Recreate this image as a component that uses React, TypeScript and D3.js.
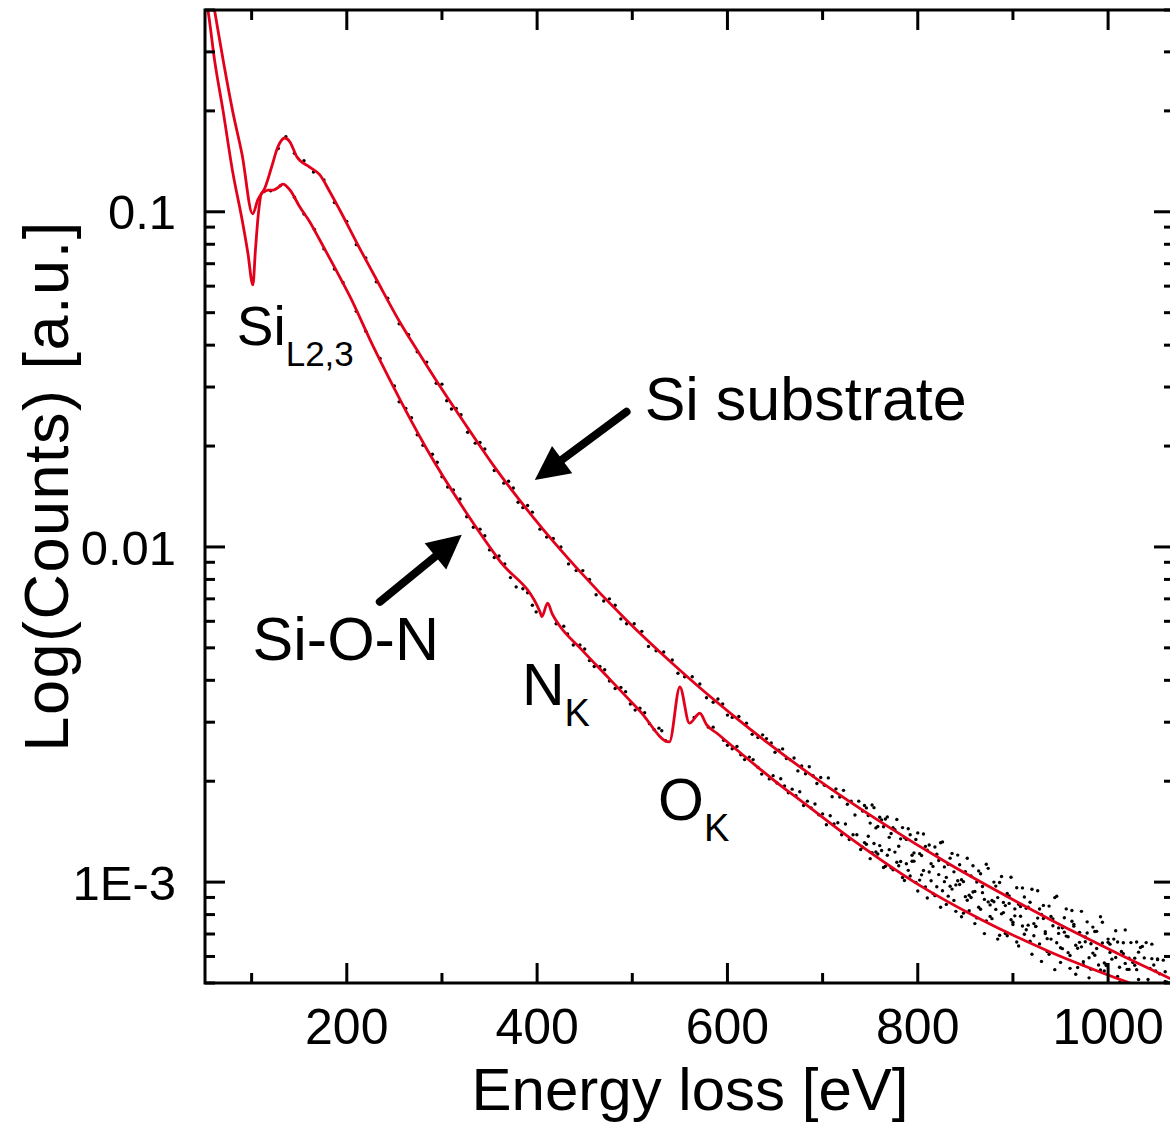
import React from "react";
import * as d3 from "d3";

const width = 1170;
const height = 1124;
const plot = { left: 205, top: 10, right: 1169, bottom: 983 };
const frameRight = 1174; // right axis sits just outside the cropped picture

// red fit curve, Si substrate (upper spectrum)
const siEnergy = [50, 55, 61, 70, 80, 90, 101, 106.5, 114, 121, 127.5, 135, 140, 147.5, 161, 171.5, 182, 192.5, 210.5, 231.5, 255.5, 273.5, 294.5, 326, 353.5, 395.5, 441.5, 494, 542.5, 571, 605.5, 641, 694, 763, 833.5, 904, 973, 1009, 1070];
const siFit = [0.62, 0.5, 0.4, 0.284, 0.2, 0.148, 0.0986, 0.1086, 0.118, 0.136, 0.156, 0.166, 0.162, 0.146, 0.136, 0.129, 0.115, 0.1014, 0.0808, 0.0626, 0.047, 0.0388, 0.0312, 0.0229, 0.0176, 0.0123, 0.00866, 0.00604, 0.00448, 0.0038, 0.00315, 0.00262, 0.00203, 0.0015, 0.00113, 0.000874, 0.00069, 0.000614, 0.000508];

// red fit curve, Si-O-N layer (lower spectrum)
const sonEnergy = [50, 54, 61, 70, 80, 90, 96, 101.3, 104, 107, 110.7, 114, 117, 122, 127.5, 133, 140, 150.5, 161, 171.5, 187.5, 203, 227.5, 245, 284, 326, 360.5, 403, 405, 411, 416, 424, 445, 476, 508, 539, 550, 560, 571, 578, 589, 623, 658, 676, 728, 799, 868, 938.5, 1022.5, 1070];
const sonFit = [0.45, 0.4, 0.284, 0.2, 0.132, 0.0946, 0.0755, 0.0605, 0.077, 0.098, 0.114, 0.115, 0.116, 0.116, 0.118, 0.121, 0.1164, 0.1035, 0.0934, 0.0825, 0.068, 0.0561, 0.0398, 0.0316, 0.0196, 0.0126, 0.0091, 0.0064, 0.0062, 0.0068, 0.0063, 0.0058, 0.005, 0.00404, 0.00324, 0.00262, 0.00382, 0.00298, 0.00319, 0.00295, 0.00278, 0.00231, 0.00192, 0.00176, 0.00136, 0.00099, 0.00077, 0.00062, 0.0005, 0.000447];

// measured points (black dots), [energy, counts]
const siDots: [number, number][] = [
  [128, 0.1545], [136, 0.1675], [145, 0.1495], [155, 0.142], [165, 0.1315], [176, 0.1245], [187, 0.1065], [200, 0.0935],
  [210, 0.0798], [220, 0.0728], [231, 0.0618], [243, 0.0552], [255, 0.0463], [265, 0.043], [274, 0.0382], [284, 0.0356],
  [294, 0.0308], [300, 0.0306], [310, 0.0258], [320, 0.0248], [335, 0.0204], [345, 0.0196], [365, 0.0155], [375, 0.015],
  [385, 0.0131], [395, 0.0127], [410, 0.0107], [425, 0.01], [441, 0.0085], [455, 0.008], [470, 0.0069], [482, 0.0067],
  [494, 0.0059], [510, 0.0056], [525, 0.0049], [542, 0.0046], [555, 0.0041], [571, 0.0039], [585, 0.00344], [595, 0.0034],
  [605, 0.0031], [620, 0.00298], [632, 0.0027], [641, 0.00268],
  [305, 0.0273], [315, 0.0259], [327, 0.022], [340, 0.0205], [355, 0.0169], [370, 0.0157], [380, 0.0136], [390, 0.0133],
  [403, 0.0113], [417, 0.0106], [433, 0.0089], [448, 0.0085], [462, 0.0072], [476, 0.007], [488, 0.0061], [502, 0.0059],
  [517, 0.00505], [533, 0.00486], [548, 0.0042], [563, 0.0041], [578, 0.00355], [590, 0.00352], [600, 0.00315], [612, 0.00312],
  [626, 0.00276], [637, 0.00275],
  [646, 0.002601], [650, 0.002441], [654, 0.002475], [658, 0.002497], [662, 0.002337], [666, 0.002316], [670, 0.002347],
  [674, 0.002147], [678, 0.00222], [682, 0.002105], [686, 0.00221], [690, 0.002076], [694, 0.001968], [698, 0.002051],
  [702, 0.001944], [706, 0.002046], [710, 0.001798], [714, 0.001897], [718, 0.001794], [722, 0.001878], [726, 0.001708],
  [730, 0.001742], [734, 0.001586], [738, 0.001744], [742, 0.00163], [746, 0.001665], [750, 0.0015], [754, 0.001668],
  [758, 0.001466], [762, 0.001534], [766, 0.001543], [770, 0.00136], [774, 0.001453], [778, 0.001537], [782, 0.001346],
  [786, 0.001358], [790, 0.001443], [794, 0.001203], [798, 0.00134], [802, 0.001216], [806, 0.001391], [810, 0.001245],
  [814, 0.001135], [818, 0.001273], [822, 0.00116], [826, 0.001318], [830, 0.001033], [834, 0.001179], [838, 0.001073],
  [842, 0.001204], [846, 0.001016], [850, 0.001075], [854, 0.000914], [858, 0.001119], [862, 0.001001], [866, 0.001059],
  [870, 0.000888], [874, 0.001099], [878, 0.000881], [882, 0.000973], [886, 0.000997], [890, 0.000811], [894, 0.000925],
  [898, 0.001034], [902, 0.000832], [906, 0.000859], [910, 0.000961], [914, 0.000721], [918, 0.000871], [922, 0.000752],
  [926, 0.000942], [930, 0.000801], [934, 0.000702], [938, 0.000848], [942, 0.000741], [946, 0.000907], [950, 0.000637],
  [954, 0.000783], [958, 0.000687], [962, 0.000823], [966, 0.000648], [970, 0.000708], [974, 0.000567], [978, 0.000761],
  [982, 0.000655], [986, 0.000712], [990, 0.000566], [994, 0.000759], [998, 0.000568], [1002, 0.000653], [1006, 0.000676],
  [1010, 0.000523], [1014, 0.000621], [1018, 0.00072], [1022, 0.000549], [1026, 0.000576], [1030, 0.000663], [1034, 0.00047],
  [1038, 0.000594], [1042, 0.000499], [1046, 0.000653], [1050, 0.000543], [1054, 0.000468], [1058, 0.000585], [1062, 0.000503],
  [744, 0.001692], [748, 0.00158], [752, 0.001699], [756, 0.001451], [760, 0.001562], [764, 0.001462], [768, 0.001565],
  [772, 0.001396], [776, 0.001434], [780, 0.001279], [784, 0.001454], [788, 0.001341], [792, 0.001385], [796, 0.001222],
  [800, 0.001402], [804, 0.0012], [808, 0.001278], [812, 0.00129], [816, 0.001114], [820, 0.001211], [824, 0.00131],
  [828, 0.00111], [832, 0.001131], [836, 0.001218], [840, 0.000981], [844, 0.001127], [848, 0.001003], [852, 0.001178],
  [856, 0.001043], [860, 0.000938], [864, 0.00108], [868, 0.00097], [872, 0.001131], [876, 0.000855], [880, 0.001],
  [884, 0.000899], [888, 0.001039], [892, 0.000851], [896, 0.00091], [900, 0.000759], [904, 0.000962], [908, 0.000845],
  [912, 0.000903], [916, 0.000744], [920, 0.000952], [924, 0.000737], [928, 0.000831], [932, 0.000852], [936, 0.000678],
  [940, 0.00079], [944, 0.000899], [948, 0.000703], [952, 0.000731], [956, 0.000832], [960, 0.000604], [964, 0.000748],
  [968, 0.000635], [972, 0.000818], [976, 0.000686], [980, 0.000595], [984, 0.000734], [988, 0.000634], [992, 0.000788],
  [996, 0.000543], [1000, 0.000676], [1004, 0.000589], [1008, 0.000716], [1012, 0.000557], [1016, 0.000611], [1020, 0.000485],
  [1024, 0.00066], [1028, 0.000565], [1032, 0.000618], [1036, 0.000488], [1040, 0.00066], [1044, 0.00049], [1048, 0.000566],
  [1052, 0.000587], [1056, 0.000453], [1060, 0.00054],
];

const sonDots: [number, number][] = [
  [120, 0.1155], [130, 0.1195], [145, 0.1105], [155, 0.0985], [166, 0.0885], [176, 0.0775], [187, 0.0675], [196, 0.0615],
  [210, 0.0505], [220, 0.044], [235, 0.0365], [250, 0.0302], [262, 0.0259], [274, 0.0216], [290, 0.0189], [300, 0.0162],
  [312, 0.0148], [326, 0.0123], [340, 0.0113], [350, 0.0098], [360, 0.0094], [372, 0.0081], [385, 0.0075], [395, 0.0067],
  [420, 0.0059], [432, 0.0055], [445, 0.0051], [455, 0.00458], [466, 0.0044], [476, 0.00398], [488, 0.00381], [498, 0.0034],
  [508, 0.0033], [518, 0.00297], [528, 0.00288], [535, 0.00264], [565, 0.0031], [580, 0.0029], [596, 0.00265], [605, 0.0025],
  [614, 0.0024], [623, 0.00236], [632, 0.0022],
  [255, 0.0271], [268, 0.0243], [280, 0.0201], [295, 0.0179], [306, 0.0151], [319, 0.0139], [333, 0.01145], [345, 0.0108],
  [355, 0.0093], [366, 0.0089], [378, 0.0076], [390, 0.0073], [399, 0.0064], [428, 0.0058], [438, 0.0051], [450, 0.00496],
  [460, 0.0044], [471, 0.0043], [482, 0.00378], [493, 0.0037], [503, 0.00326], [513, 0.0032], [523, 0.00285], [531, 0.00283],
  [585, 0.0029], [600, 0.00256], [610, 0.00254], [618, 0.00232], [627, 0.00232], [636, 0.0021],
  [644, 0.002032], [648, 0.002078], [652, 0.001976], [656, 0.002035], [660, 0.001935], [664, 0.001848], [668, 0.001894],
  [672, 0.001809], [676, 0.00186], [680, 0.001693], [684, 0.001744], [688, 0.001663], [692, 0.00171], [696, 0.001588],
  [700, 0.001598], [704, 0.001483], [708, 0.001577], [712, 0.001491], [716, 0.001504], [720, 0.001384], [724, 0.001491],
  [728, 0.00134], [732, 0.001385], [736, 0.001384], [740, 0.001251], [744, 0.001312], [748, 0.00137], [752, 0.001223],
  [756, 0.00123], [760, 0.001285], [764, 0.001105], [768, 0.001203], [772, 0.001104], [776, 0.001229], [780, 0.001119],
  [784, 0.001032], [788, 0.001134], [792, 0.001043], [796, 0.001155], [800, 0.000941], [804, 0.001051], [808, 0.000968],
  [812, 0.001072], [816, 0.000925], [820, 0.000969], [824, 0.000841], [828, 0.001003], [832, 0.000908], [836, 0.000953],
  [840, 0.000818], [844, 0.000984], [848, 0.000808], [852, 0.000883], [856, 0.0009], [860, 0.000752], [864, 0.000841],
  [868, 0.00093], [872, 0.000766], [876, 0.00079], [880, 0.000874], [884, 0.000676], [888, 0.000804], [892, 0.000703],
  [896, 0.000864], [900, 0.000747], [904, 0.000663], [908, 0.000791], [912, 0.000699], [916, 0.000842], [920, 0.000609],
  [924, 0.000738], [928, 0.000654], [932, 0.000779], [936, 0.000621], [940, 0.000676], [944, 0.000548], [948, 0.00073],
  [952, 0.000633], [956, 0.00069], [960, 0.000553], [964, 0.000739], [968, 0.000556], [972, 0.000641], [976, 0.000664],
  [980, 0.000518], [984, 0.000614], [988, 0.000713], [992, 0.000547], [996, 0.000574], [1000, 0.000661], [1004, 0.000471],
  [1008, 0.000596], [1012, 0.000502], [1016, 0.000659], [1020, 0.000549], [1024, 0.000474], [1028, 0.000593], [1032, 0.000512],
  [1036, 0.000643], [1040, 0.000439], [1044, 0.000553], [1048, 0.000481], [1052, 0.00059], [1056, 0.000458], [1060, 0.000505],
  [742, 0.00127], [746, 0.001297], [750, 0.001175], [754, 0.001304], [758, 0.001213], [762, 0.001242], [766, 0.001115],
  [770, 0.00125], [774, 0.001088], [778, 0.001146], [782, 0.001152], [786, 0.001011], [790, 0.001084], [794, 0.001154],
  [798, 0.000998], [802, 0.001014], [806, 0.001083], [810, 0.000897], [814, 0.001009], [818, 0.000911], [822, 0.001053],
  [826, 0.000942], [830, 0.000858], [834, 0.000972], [838, 0.000882], [842, 0.001009], [846, 0.000788], [850, 0.000905],
  [854, 0.000821], [858, 0.000934], [862, 0.000782], [866, 0.00083], [870, 0.000702], [874, 0.000873], [878, 0.000778],
  [882, 0.000829], [886, 0.000694], [890, 0.00087], [894, 0.000692], [898, 0.000772], [902, 0.000793], [906, 0.000645],
  [910, 0.00074], [914, 0.000836], [918, 0.000666], [922, 0.000692], [926, 0.000781], [930, 0.00058], [934, 0.000711],
  [938, 0.000609], [942, 0.000777], [946, 0.000659], [950, 0.000576], [954, 0.000709], [958, 0.000616], [962, 0.000764],
  [966, 0.000531], [970, 0.000661], [974, 0.000579], [978, 0.000705], [982, 0.00055], [986, 0.000605], [990, 0.000482],
  [994, 0.000658], [998, 0.000564], [1002, 0.000617], [1006, 0.000489], [1010, 0.000663], [1014, 0.000493], [1018, 0.000572],
  [1022, 0.000593], [1026, 0.000459], [1030, 0.000548], [1034, 0.000638], [1038, 0.000487], [1042, 0.000512], [1046, 0.000591],
  [1050, 0.00042], [1054, 0.000533], [1058, 0.000449],
];

const xMajor = [200, 400, 600, 800, 1000];
const xMinor = [100, 300, 500, 700, 900];
const yMajor = [0.1, 0.01, 0.001];
const yLabels = ["0.1", "0.01", "1E-3"];

const font = "'Liberation Sans', Arial, sans-serif";
const red = "#e3001b";

function Arrow({ from, to }: { from: [number, number]; to: [number, number] }) {
  const dx = to[0] - from[0];
  const dy = to[1] - from[1];
  const len = Math.hypot(dx, dy);
  const ux = dx / len, uy = dy / len;
  const headLen = 34, headW = 17;
  const bx = to[0] - ux * headLen, by = to[1] - uy * headLen;
  const pts = [
    [to[0], to[1]],
    [bx - uy * headW, by + ux * headW],
    [bx + uy * headW, by - ux * headW],
  ];
  return (
    <g>
      <line x1={from[0]} y1={from[1]} x2={bx + ux * 2} y2={by + uy * 2} stroke="#000" strokeWidth={8} strokeLinecap="round" />
      <polygon points={pts.map((p) => p.join(",")).join(" ")} fill="#000" />
    </g>
  );
}

export default function App() {
  const x = d3.scaleLinear().domain([51, 1064]).range([plot.left, plot.right]);
  const y = d3.scaleLog().domain([0.0005, 0.4]).range([plot.bottom, plot.top]);

  const siLine = d3
    .line<number>()
    .x((d, i) => x(siEnergy[i]))
    .y((d) => y(d))
    .curve(d3.curveMonotoneX);
  const sonLine = d3
    .line<number>()
    .x((d, i) => x(sonEnergy[i]))
    .y((d) => y(d))
    .curve(d3.curveMonotoneX);

  const yMinor = y.ticks().filter((t) => !yMajor.some((m) => Math.abs(m - t) / m < 1e-6));

  const majorLen = 20;
  const minorLen = 10;
  const tickStroke = 3;

  return (
    <div style={{ position: "absolute", left: 0, top: 0 }}>
      <svg width={width} height={height} style={{ display: "block", background: "#fff" }} fontFamily={font}>
        <defs>
          <clipPath id="plotClip">
            <rect x={plot.left} y={plot.top} width={frameRight - plot.left} height={plot.bottom - plot.top} />
          </clipPath>
        </defs>

        <g clipPath="url(#plotClip)">
          {siDots.concat(sonDots).map((d, i) => (
            <circle key={i} cx={x(d[0])} cy={y(d[1])} r={1.7} fill="#000" />
          ))}
          <path d={siLine(siFit) || ""} fill="none" stroke={red} strokeWidth={2.8} />
          <path d={sonLine(sonFit) || ""} fill="none" stroke={red} strokeWidth={2.8} />
        </g>

        {/* frame */}
        <rect
          x={plot.left}
          y={plot.top}
          width={frameRight - plot.left}
          height={plot.bottom - plot.top}
          fill="none"
          stroke="#000"
          strokeWidth={3}
        />

        {/* x ticks, bottom and top, pointing inward */}
        {xMajor.concat(xMinor).map((t) => {
          const len = xMajor.includes(t) ? majorLen : minorLen;
          return (
            <g key={"x" + t} stroke="#000" strokeWidth={tickStroke}>
              <line x1={x(t)} x2={x(t)} y1={plot.bottom} y2={plot.bottom - len} />
              <line x1={x(t)} x2={x(t)} y1={plot.top} y2={plot.top + len} />
            </g>
          );
        })}
        {xMajor.map((t) => (
          <text key={"xl" + t} x={x(t)} y={1044} textAnchor="middle" fontSize={50}>
            {t}
          </text>
        ))}

        {/* y ticks, left and right */}
        {yMajor.concat(yMinor).map((t, i) => {
          const len = i < yMajor.length ? majorLen : minorLen;
          return (
            <g key={"y" + i} stroke="#000" strokeWidth={tickStroke}>
              <line x1={plot.left} x2={plot.left + len} y1={y(t)} y2={y(t)} />
              <line x1={frameRight} x2={frameRight - len} y1={y(t)} y2={y(t)} />
            </g>
          );
        })}
        {yMajor.map((t, i) => (
          <text key={"yl" + t} x={176} y={y(t)} dy="0.36em" textAnchor="end" fontSize={49}>
            {yLabels[i]}
          </text>
        ))}

        {/* axis titles */}
        <text x={690} y={1110} textAnchor="middle" fontSize={60}>
          Energy loss [eV]
        </text>
        <text
          transform={`translate(68, 486) rotate(-90)`}
          textAnchor="middle"
          fontSize={63}
          letterSpacing={1.5}
        >
          Log(Counts) [a.u.]
        </text>

        {/* annotations */}
        <text x={x(84.4)} y={y(0.0401)} fontSize={55}>
          Si
          <tspan fontSize={35} dy={21}>L2,3</tspan>
        </text>
        <text x={x(513)} y={y(0.0239)} fontSize={61}>
          Si substrate
        </text>
        <text x={x(101)} y={y(0.0046)} fontSize={61}>
          Si-O-N
        </text>
        <text x={x(384)} y={y(0.00338)} fontSize={59}>
          N
          <tspan fontSize={38} dy={21}>K</tspan>
        </text>
        <text x={x(527)} y={y(0.00153)} fontSize={59}>
          O
          <tspan fontSize={38} dy={21}>K</tspan>
        </text>

        <Arrow from={[x(494), y(0.0253)]} to={[x(397.6), y(0.01585)]} />
        <Arrow from={[x(234.7), y(0.00686)]} to={[x(320.8), y(0.01087)]} />
      </svg>
    </div>
  );
}
